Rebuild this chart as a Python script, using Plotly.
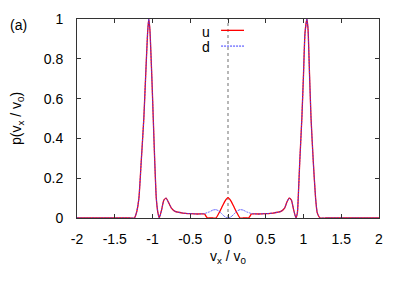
import plotly.graph_objects as go

# velocity grid (v_x / v0)
vx = [-2.0, -1.5, -1.3, -1.24, -1.21, -1.18, -1.15, -1.115, -1.09, -1.065, -1.05, -1.035,
      -1.01, -0.99, -0.97, -0.95, -0.93, -0.91, -0.88, -0.85, -0.82, -0.79, -0.75, -0.7,
      -0.6, -0.5, -0.4, -0.31, -0.29, -0.27, -0.25, -0.2, -0.16, -0.12, -0.08, -0.04, 0.0,
      0.04, 0.08, 0.12, 0.16, 0.2, 0.25, 0.27, 0.29, 0.31, 0.4, 0.5, 0.6, 0.7, 0.75,
      0.78, 0.81, 0.84, 0.87, 0.9, 0.92, 0.93, 0.95, 0.978, 1.0, 1.02, 1.045, 1.06,
      1.08, 1.1, 1.13, 1.16, 1.18, 1.2, 1.22, 1.3, 1.5, 2.0]

# u distribution
p_u = [0, 0, 0, 0.0, 0.03, 0.10, 0.28, 0.5, 0.72, 0.93, 1.0, 0.95,
       0.72, 0.5, 0.28, 0.1, 0.03, 0.0, 0.04, 0.09, 0.10, 0.08, 0.05, 0.033,
       0.025, 0.022, 0.02, 0.02, 0.008, 0.0, 0.0, 0.0, 0.0, 0.025, 0.055, 0.085, 0.102,
       0.085, 0.055, 0.025, 0.0, 0.0, 0.0, 0.0, 0.008, 0.02, 0.02, 0.022, 0.025, 0.033, 0.05,
       0.08, 0.10, 0.09, 0.04, 0.0, 0.03, 0.1, 0.28, 0.5, 0.72, 0.93, 1.0, 0.95,
       0.72, 0.5, 0.28, 0.1, 0.03, 0.01, 0.0, 0, 0, 0]

# d distribution
p_d = [0, 0, 0, 0.0, 0.03, 0.10, 0.28, 0.5, 0.72, 0.93, 1.0, 0.95,
       0.72, 0.5, 0.28, 0.1, 0.03, 0.0, 0.04, 0.09, 0.10, 0.08, 0.05, 0.033,
       0.025, 0.022, 0.02, 0.022, 0.025, 0.028, 0.03, 0.04, 0.042, 0.035, 0.02, 0.006, 0.0,
       0.006, 0.02, 0.035, 0.042, 0.04, 0.03, 0.028, 0.025, 0.022, 0.02, 0.022, 0.025, 0.033, 0.05,
       0.08, 0.10, 0.09, 0.04, 0.0, 0.03, 0.1, 0.28, 0.5, 0.72, 0.93, 1.0, 0.95,
       0.72, 0.5, 0.28, 0.1, 0.03, 0.01, 0.0, 0, 0, 0]

x_ticks = [-2, -1.5, -1, -0.5, 0, 0.5, 1, 1.5, 2]
x_ticktext = ["-2", "-1.5", "-1", "-0.5", "0", "0.5", "1", "1.5", "2"]
y_ticks = [0, 0.2, 0.4, 0.6, 0.8, 1]
y_ticktext = ["0", "0.2", "0.4", "0.6", "0.8", "1"]

FONT = "Liberation Sans, Arial, sans-serif"
FS = 14

fig = go.Figure()
fig.add_trace(go.Scatter(x=vx, y=p_u, mode="lines", name="u",
                         line=dict(color="#ff0000", width=1.3, shape="spline", smoothing=0.5),
                         showlegend=False))
fig.add_trace(go.Scatter(x=vx, y=p_d, mode="lines", name="d",
                         line=dict(color="#3c3cff", width=1, dash="2px,1px", shape="spline", smoothing=0.5),
                         opacity=0.85, showlegend=False))

# dotted zero line
fig.add_shape(type="line", x0=0, x1=0, y0=0, y1=1, xref="x", yref="y",
              line=dict(color="#a0a0a0", width=1.5, dash="dot"), layer="below")

# legend (gnuplot style: label left of sample)
fig.add_annotation(x=0.447, y=0.935, xref="paper", yref="paper", text="u", showarrow=False,
                   xanchor="right", yanchor="middle", font=dict(size=FS, color="black", family=FONT))
fig.add_annotation(x=0.447, y=0.858, xref="paper", yref="paper", text="d", showarrow=False,
                   xanchor="right", yanchor="middle", font=dict(size=FS, color="black", family=FONT))
fig.add_shape(type="line", x0=0.477, x1=0.553, y0=0.943, y1=0.943, xref="paper", yref="paper",
              line=dict(color="#ff0000", width=1.3))
fig.add_shape(type="line", x0=0.477, x1=0.553, y0=0.864, y1=0.864, xref="paper", yref="paper",
              line=dict(color="#3c3cff", width=1, dash="2px,1px"))

fig.add_annotation(x=-0.194, y=0.97, xref="paper", yref="paper", text="(a)", showarrow=False,
                   xanchor="center", yanchor="middle", font=dict(size=FS, color="black", family=FONT))

# the page body has an 8px default margin; margins below compensate for it
fig.update_layout(
    width=407, height=285,
    margin=dict(l=69, r=36, t=11, b=75, autoexpand=False),
    paper_bgcolor="white", plot_bgcolor="white",
    font=dict(family=FONT, size=FS, color="black"),
    xaxis=dict(range=[-2, 2], tickvals=x_ticks, ticktext=x_ticktext, ticks="inside", ticklen=4,
               tickcolor="#333333", showline=True, linecolor="#333333", linewidth=1, mirror="ticks",
               showgrid=False, zeroline=False, ticklabelstandoff=8, automargin=False,
               title=dict(text="v<sub>x</sub> / v<sub>0</sub>", standoff=5, font=dict(size=FS))),
    yaxis=dict(range=[0, 1], tickvals=y_ticks, ticktext=y_ticktext, ticks="inside", ticklen=4,
               tickcolor="#333333", showline=True, linecolor="#333333", linewidth=1, mirror="ticks",
               showgrid=False, zeroline=False, ticklabelstandoff=10, automargin=False,
               title=dict(text="p(v<sub>x</sub> / v<sub>0</sub>)", standoff=26, font=dict(size=FS))),
)

fig.write_html("out.html")
